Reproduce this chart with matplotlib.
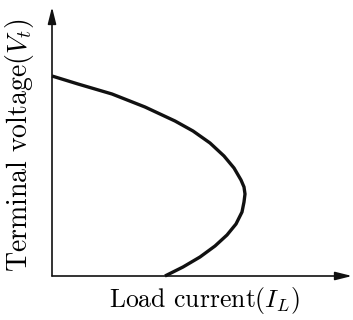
import matplotlib
matplotlib.use("Agg")
import matplotlib.pyplot as plt

plt.rcParams["font.family"] = "cmr10"
plt.rcParams["mathtext.fontset"] = "cm"
plt.rcParams["axes.unicode_minus"] = False

# Terminal voltage vs load current (nose curve), arbitrary units
load_current = [0, 26, 60, 93, 123, 141, 158, 172, 182, 189, 192, 193, 192, 190,
                184, 175, 163, 148, 131, 113]
terminal_voltage = [200, 192, 182, 169, 155, 145, 133, 120, 108, 96, 89, 82, 74, 64,
                    52, 41, 30, 19, 9, 0]

x_label = "Load current$(I_L)$"
y_label = "Terminal voltage$(V_t)$"

W, H = 353, 320
fig = plt.figure(figsize=(W / 100, H / 100), dpi=100)
x0, y0, x1, y1 = 52, 276, 352, 7
ax = fig.add_axes([x0 / W, (H - y0) / H, (x1 - x0) / W, (y0 - y1) / H])
ax.set_xlim(0, x1 - x0)
ax.set_ylim(0, y0 - y1)
ax.axis("off")

arrow = dict(arrowstyle="-|>,head_length=1.0,head_width=0.25", color="#111111",
             lw=1.2, shrinkA=0, shrinkB=0)
ax.annotate("", xy=(1, 0), xytext=(0, 0), xycoords="axes fraction",
            textcoords="axes fraction", arrowprops=arrow)
ax.annotate("", xy=(0, 1), xytext=(0, 0), xycoords="axes fraction",
            textcoords="axes fraction", arrowprops=arrow)

ax.plot(load_current, terminal_voltage, color="#111111", lw=2.4,
        solid_joinstyle="round", solid_capstyle="butt", clip_on=False)

fig.text(204 / W, 1 - 300 / H, x_label, ha="center", va="center", fontsize=18.5)
fig.text(20 / W, 1 - 145 / H, y_label, ha="center", va="center", fontsize=20,
         rotation=90)

fig.savefig("out.png", dpi=100)
